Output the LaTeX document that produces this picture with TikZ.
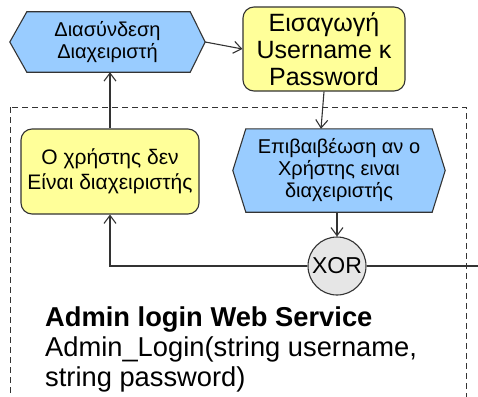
\documentclass[tikz,border=0pt]{standalone}
\usepackage{fontspec}
\setmainfont{Liberation Sans}
\usetikzlibrary{arrows.meta,backgrounds,calc}
\definecolor{hexblue}{HTML}{99CCFF}
\definecolor{noteyellow}{HTML}{FFFF99}
\definecolor{xorgrey}{HTML}{E6E6E6}
\definecolor{edgegrey}{HTML}{333333}
\begin{document}
\begin{tikzpicture}[x=1pt,y=-1pt,
  shapeline/.style={draw=edgegrey,line width=1.1pt},
  hexbox/.style={inner sep=0pt,align=center,font=\fontsize{20}{22}\selectfont},
  notebox/.style={shapeline,fill=noteyellow,rounded corners=11pt,inner sep=0pt,align=center},
  gate/.style={shapeline,fill=xorgrey,circle,inner sep=0pt,minimum size=58pt,font=\fontsize{23}{23}\selectfont},
  flow/.style={draw=edgegrey,line width=1.1pt},
  flowarrow/.style={flow,-{Straight Barb[length=8pt,width=12pt]}},
  frame/.style={draw=edgegrey,line width=1pt,dash pattern=on 6pt off 4pt}]
\useasboundingbox (0,0) rectangle (478,396);
\clip (0,0) rectangle (478,396);

% dashed service boundary
\draw[frame] (10,107) rectangle (466,420);

% nodes
\node[hexbox,minimum width=195pt,minimum height=60pt] (h1) at (107.5,42) {Διασύνδεση\\Διαχειριστή};
\node[notebox,minimum width=162pt,minimum height=84pt,font=\fontsize{25}{27}\selectfont] (eis) at (324,49) {Εισαγωγή\\Username κ\\Password};
\node[hexbox,minimum width=212pt,minimum height=83pt] (h2) at (339,170.5) {Επιβαιβέωση αν ο\\Χρήστης ειναι\\διαχειριστής};
\node[notebox,minimum width=178pt,minimum height=85pt,font=\fontsize{21}{25}\selectfont] (b2) at (110,171.5) {Ο χρήστης δεν\\Είναι διαχειριστής};
\node[gate] (xor) at (337,266) {XOR};
\coordinate (out) at (478,266);
\node[anchor=north west,inner sep=0pt,align=left,font=\fontsize{27.3}{30}\selectfont] (svc) at (45,307)
  {\textbf{Admin login Web Service}\\Admin\_Login(string username,\\string password)};

% hexagon outlines behind the texts
\begin{scope}[on background layer]
\draw[shapeline,fill=hexblue] (h1.west) -- ([xshift=17pt]h1.north west) -- ([xshift=-15pt]h1.north east)
  -- (h1.east) -- ([xshift=-15pt]h1.south east) -- ([xshift=17pt]h1.south west) -- cycle;
\draw[shapeline,fill=hexblue] (h2.west) -- ([xshift=13pt]h2.north west) -- ([xshift=-13pt]h2.north east)
  -- (h2.east) -- ([xshift=-13pt]h2.south east) -- ([xshift=13pt]h2.south west) -- cycle;
\end{scope}

% connectors
\draw[flowarrow] (h1.east) -- (eis.west);
\draw[flowarrow] (eis.south) -- ([xshift=-18pt]h2.north);
\draw[flowarrow] (h2.south -| xor.north) -- (xor.north);
\draw[flowarrow] (xor.west) -| (b2.south);
\draw[flow] (xor.east) -- (out);
\draw[flowarrow] (b2.north) -- (b2.north |- h1.south);
\end{tikzpicture}
\end{document}
